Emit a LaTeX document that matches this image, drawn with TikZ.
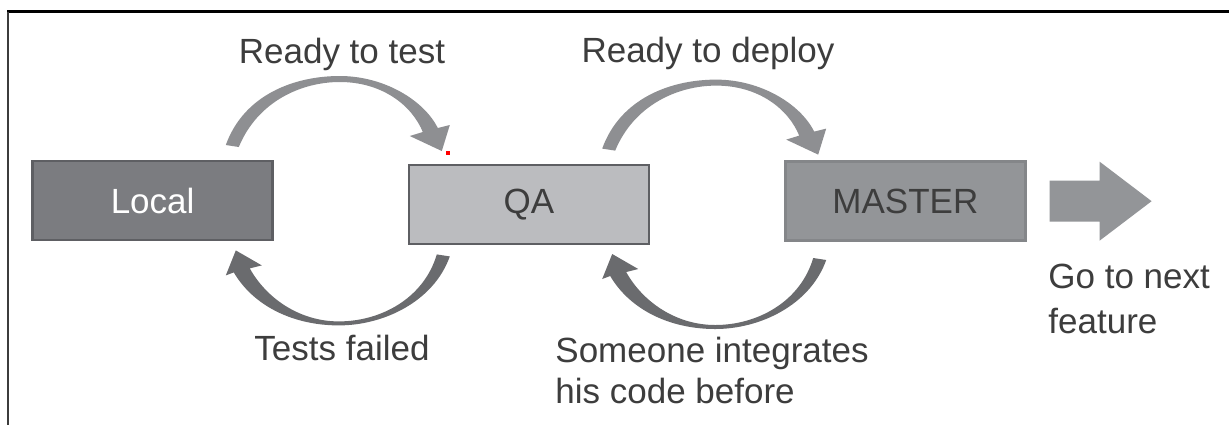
\documentclass[tikz,border=0pt]{standalone}
\usepackage{fontspec}
\setmainfont{Liberation Sans}
\usepackage{xcolor}
\usetikzlibrary{matrix}

\definecolor{localgray}{HTML}{7B7C80}
\definecolor{qagray}{HTML}{BBBCBF}
\definecolor{mastergray}{HTML}{939598}
\definecolor{edgegray}{HTML}{5E5F63}
\definecolor{overgray}{HTML}{8E8F92}
\definecolor{backgray}{HTML}{6A6B6E}
\definecolor{textgray}{HTML}{3D3D3D}
\definecolor{framegray}{HTML}{3C3C3C}

\begin{document}
\begin{tikzpicture}[x=0.5pt,y=-0.5pt,
		stage/.style={draw=edgegray, line width=1.2pt, minimum width=120pt, minimum height=39.5pt, inner sep=0pt, text=textgray, font=\fontsize{17.5}{21}\selectfont},
		lbl/.style={text=textgray, inner sep=0pt, font=\fontsize{17.5}{21}\selectfont}]
		\fill[white] (0,0) rectangle (1229,425);
		\useasboundingbox (0,0) rectangle (1229,425);
		
		\draw[black, line width=1.5pt] (7,11.5) -- (1229,11.5);
		\draw[framegray, line width=1pt] (8,11.5) -- (8,425);
		
		\matrix (M) [matrix of nodes, column sep=67pt, nodes={stage}] at (529,202.5) {
			|[fill=localgray, text=white]| Local & |[fill=qagray]| QA & |[fill=mastergray, draw=mastergray!90!black]| MASTER \\
		};
		
		% forward arrows over the boxes
		\foreach \a in {1,2}{
			\begin{scope}[shift={(M-1-\a.north east)}]
				\fill[overgray] (-48,-15) .. controls (-30,-65) and (20,-84) .. (66,-84)
				.. controls (110,-84) and (150,-60) .. (164,-32) -- (176,-35) -- (168,-9) -- (136,-24) -- (149,-28)
				.. controls (138,-55) and (108,-78) .. (66,-78)
				.. controls (28,-78) and (-16,-59) .. (-35,-13) -- cycle;
			\end{scope}
		}
		
		% backward arrows under the boxes
		\foreach \a in {1,2}{
			\begin{scope}[shift={(M-1-\a.south east)}]
				\fill[backgray] (176,15) .. controls (160,60) and (110,84) .. (65,84)
				.. controls (20,84) and (-20,65) .. (-40,31) -- (-48,34) -- (-38,9) -- (-12,24) -- (-24,27)
				.. controls (-8,56) and (25,80) .. (65,80)
				.. controls (107,80) and (150,57) .. (163,13) -- cycle;
			\end{scope}
		}
		
		\begin{scope}[shift={(M-1-3.east)}]
			\fill[mastergray] (23,-20.5) -- (73,-20.5) -- (73,-39.5) -- (125,0) -- (73,39.5) -- (73,20.5) -- (23,20.5) -- cycle;
		\end{scope}
		
		\fill[red] (446,151) rectangle (450,155);
		
		\node[lbl, anchor=base] (ready) at (342,63) {Ready to test};
		\node[lbl, anchor=base] (deploy) at (708,62) {Ready to deploy};
		\node[lbl, anchor=base] (failed) at (342,360) {Tests failed};
		\node[lbl, anchor=base west, align=left, font=\fontsize{17.5}{20.5}\selectfont] (someone) at (555,403) {Someone integrates\\his code before};
		\node[lbl, anchor=base west, align=left, font=\fontsize{17.5}{22.5}\selectfont] (next) at (1048,333) {Go to next\\feature};
	\end{tikzpicture}
\end{document}
